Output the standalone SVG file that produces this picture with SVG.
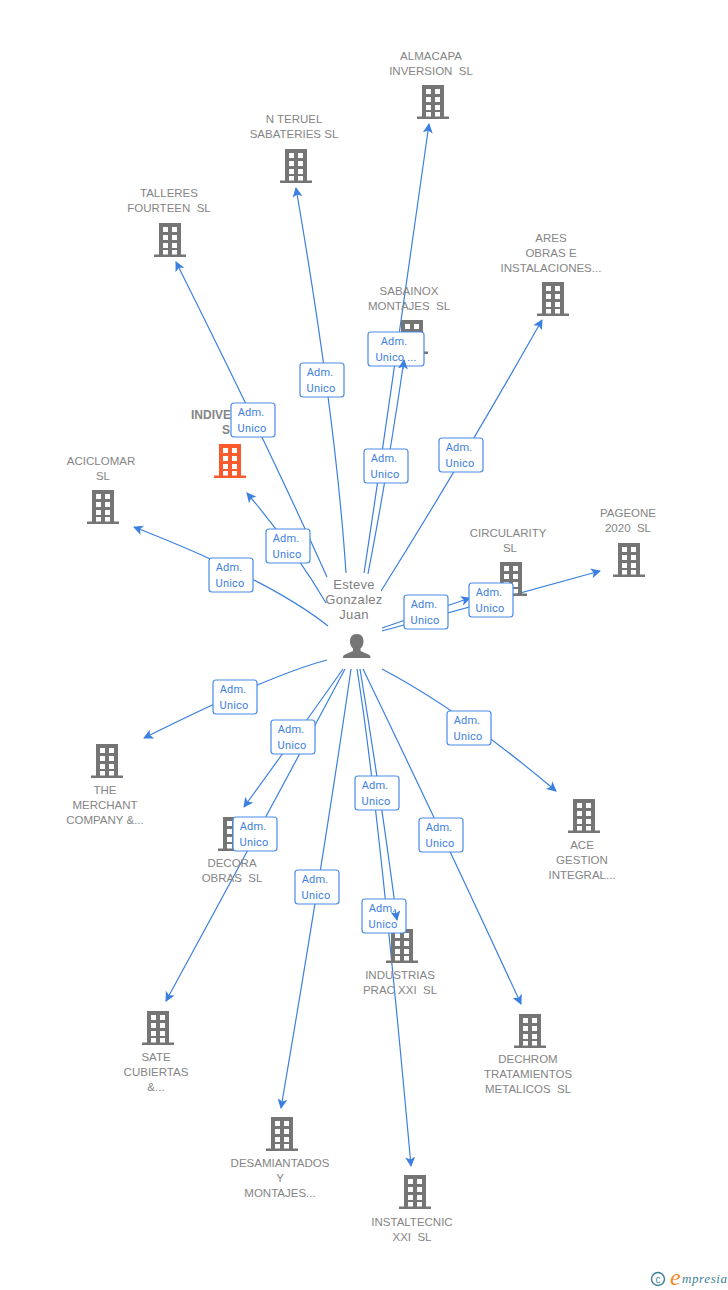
<svg xmlns="http://www.w3.org/2000/svg" width="728" height="1290" viewBox="0 0 728 1290">
<style>
.c{fill:none;stroke:#3b80e0;stroke-width:1.2}
.a{marker-end:url(#ah)}
.b{fill:#fff;stroke:#4a8ce8;stroke-width:1.2}
.bt{font:11px Roboto,"Liberation Sans",sans-serif;fill:#3b80e0;text-anchor:middle;letter-spacing:.2px}
.n{font:11.5px "Liberation Sans",Arial,sans-serif;fill:#858585;text-anchor:middle;white-space:pre}
.p{font:13px "Liberation Sans",sans-serif;fill:#808080;text-anchor:middle;letter-spacing:.3px}
</style>
<defs>
<marker id="ah" viewBox="0 0 10 10" refX="9" refY="5" markerWidth="10" markerHeight="10" markerUnits="userSpaceOnUse" orient="auto"><path d="M0 0L10 5L0 10L2.5 5Z" fill="#3b80e0"/></marker>
<symbol id="bld" viewBox="0 0 32 34" overflow="visible">
<path fill-rule="evenodd" d="M5 0H27V31.500H32V34H0V31.500H5ZM9 4V9H14V4ZM18 4V9H23V4ZM9 12V17H14V12ZM18 12V17H23V12ZM9 20V25H14V20ZM18 20V25H23V20ZM9 27V31.500H14V27ZM18 27V31.500H23V27Z"/>
</symbol>
<g id="lab"><rect x="-22" y="-17" width="44" height="34" rx="3" class="b"/><text class="bt" x="-2" y="-4">Adm.</text><text class="bt" x="-1" y="12">Unico</text></g>
</defs>
<g id="connectors">
<path class="c a" d="M364 573Q380 470 429 124"/>
<path class="c" d="M368 574Q388 470 404 360"/>
<path class="c a" d="M346 573Q336 420 296 188"/>
<path class="c a" d="M327 577Q270 450 176 262"/>
<path class="c a" d="M381 591Q460 465 542 320"/>
<path class="c a" d="M326 603Q295 550 247 493"/>
<path class="c a" d="M328 626Q270 580 134 527"/>
<path class="c a" d="M382 628L470 598"/>
<path class="c a" d="M382 631L600 571"/>
<path class="c a" d="M327 660Q270 675 144 738"/>
<path class="c a" d="M343 669Q300 730 244 807"/>
<path class="c a" d="M345 669Q270 810 166 1001"/>
<path class="c a" d="M351 669Q325 850 281 1108"/>
<path class="c a" d="M357 669Q378 800 411 1166"/>
<path class="c" d="M360 669Q380 790 397 920"/>
<path class="c a" d="M363 669Q437 822 521 1004"/>
<path class="c a" d="M382 669Q460 710 556 791"/>
</g>
<g id="n-almacapa" fill="#757575"><use href="#bld" x="417" y="85" width="32" height="34"/><text class="n" x="431" y="60">ALMACAPA</text><text class="n" x="431" y="75">INVERSION  SL</text></g>
<g id="n-teruel" fill="#757575"><use href="#bld" x="280" y="149" width="32" height="34"/><text class="n" x="294" y="123">N TERUEL</text><text class="n" x="294" y="138">SABATERIES SL</text></g>
<g id="n-talleres" fill="#757575"><use href="#bld" x="154" y="223" width="32" height="34"/><text class="n" x="169" y="197">TALLERES</text><text class="n" x="169" y="212">FOURTEEN  SL</text></g>
<g id="n-ares" fill="#757575"><use href="#bld" x="537" y="282" width="32" height="34"/><text class="n" x="551" y="242">ARES</text><text class="n" x="551" y="257">OBRAS E</text><text class="n" x="551" y="272">INSTALACIONES...</text></g>
<g id="n-sabainox" fill="#757575"><use href="#bld" x="396" y="320" width="32" height="34"/><text class="n" x="409" y="295">SABAINOX</text><text class="n" x="409" y="310">MONTAJES  SL</text></g>
<g id="n-indive" fill="#fb5a2c"><use href="#bld" x="214" y="444" width="32" height="34"/><text x="191" y="419" style="font:bold 12px 'Liberation Sans',sans-serif;fill:#858585">INDIVE</text><text x="222" y="434" style="font:bold 12px 'Liberation Sans',sans-serif;fill:#858585">S</text></g>
<g id="n-aciclomar" fill="#757575"><use href="#bld" x="87" y="490" width="32" height="34"/><text class="n" x="101" y="465">ACICLOMAR</text><text class="n" x="103" y="480">SL</text></g>
<g id="n-circularity" fill="#757575"><use href="#bld" x="495" y="562" width="32" height="34"/><text class="n" x="508" y="537">CIRCULARITY</text><text class="n" x="510" y="552">SL</text></g>
<g id="n-pageone" fill="#757575"><use href="#bld" x="613" y="543" width="32" height="34"/><text class="n" x="628" y="517">PAGEONE</text><text class="n" x="628" y="532">2020  SL</text></g>
<g id="n-merchant" fill="#757575"><use href="#bld" x="91" y="744" width="32" height="34"/><text class="n" x="105" y="794">THE</text><text class="n" x="105" y="809">MERCHANT</text><text class="n" x="105" y="824">COMPANY &amp;...</text></g>
<g id="n-ace" fill="#757575"><use href="#bld" x="568" y="799" width="32" height="34"/><text class="n" x="582" y="849">ACE</text><text class="n" x="582" y="864">GESTION</text><text class="n" x="582" y="879">INTEGRAL...</text></g>
<g id="n-decora" fill="#757575"><use href="#bld" x="218" y="817" width="32" height="34"/><text class="n" x="232" y="867">DECORA</text><text class="n" x="232" y="882">OBRAS  SL</text></g>
<g id="n-industrias" fill="#757575"><use href="#bld" x="386" y="929" width="32" height="34"/><text class="n" x="400" y="979">INDUSTRIAS</text><text class="n" x="400" y="994">PRAC XXI  SL</text></g>
<g id="n-sate" fill="#757575"><use href="#bld" x="142" y="1011" width="32" height="34"/><text class="n" x="156" y="1061">SATE</text><text class="n" x="156" y="1076">CUBIERTAS</text><text class="n" x="156" y="1091">&amp;...</text></g>
<g id="n-dechrom" fill="#757575"><use href="#bld" x="514" y="1014" width="32" height="34"/><text class="n" x="528" y="1063">DECHROM</text><text class="n" x="528" y="1078">TRATAMIENTOS</text><text class="n" x="528" y="1093">METALICOS  SL</text></g>
<g id="n-desamiantados" fill="#757575"><use href="#bld" x="266" y="1117" width="32" height="34"/><text class="n" x="280" y="1167">DESAMIANTADOS</text><text class="n" x="280" y="1182">Y</text><text class="n" x="280" y="1197">MONTAJES...</text></g>
<g id="n-instaltecnic" fill="#757575"><use href="#bld" x="399" y="1175" width="32" height="34"/><text class="n" x="412" y="1226">INSTALTECNIC</text><text class="n" x="412" y="1241">XXI  SL</text></g>
<g id="n-person"><text class="p" x="354" y="589">Esteve</text><text class="p" x="354" y="604">Gonzalez</text><text class="p" x="354" y="619">Juan</text>
<path fill="#757575" d="M357 634c4.500 0 6.500 3.500 6.500 7.500 0 3-1.200 5.500-3 7v2.500l8 3.500c1.500.7 2 1.800 2 3.500H343c0-1.700.5-2.800 2-3.500l8-3.500v-2.500c-1.800-1.500-3-4-3-7 0-4 2-7.500 7-7.500z"/></g>
<g id="edge-labels">
<use href="#lab" x="322" y="380"/><use href="#lab" x="386" y="466"/><use href="#lab" x="253" y="420"/><use href="#lab" x="461" y="455"/><use href="#lab" x="288" y="546"/><use href="#lab" x="231" y="575"/><use href="#lab" x="426" y="612"/><use href="#lab" x="491" y="600"/><use href="#lab" x="235" y="697"/><use href="#lab" x="293" y="737"/><use href="#lab" x="255" y="834"/><use href="#lab" x="469" y="728"/><use href="#lab" x="377" y="793"/><use href="#lab" x="441" y="835"/><use href="#lab" x="317" y="887"/><use href="#lab" x="384" y="916"/>
<rect x="368" y="332" width="56" height="34" rx="3" class="b"/><text class="bt" x="394" y="345">Adm.</text><text class="bt" x="396" y="361">Unico ...</text>
</g>
<g id="connector-tips">
<path class="c a" d="M403 369L404 360"/>
<path class="c a" d="M395 909L397 920"/>
</g>
<g id="logo">
<circle cx="658" cy="1279" r="6.500" fill="none" stroke="#3f7f96" stroke-width="1.400"/>
<text x="658" y="1282.500" text-anchor="middle" style="font:10px 'Liberation Sans',sans-serif;fill:#3f7f96">c</text>
<text x="670" y="1285" style="font:italic 24px 'Liberation Serif',serif;fill:#f28a1c">e</text>
<text x="682" y="1283" style="font:italic 13px 'Liberation Serif',serif;fill:#3f7f96;letter-spacing:.6px">mpresia</text>
</g>
</svg>
